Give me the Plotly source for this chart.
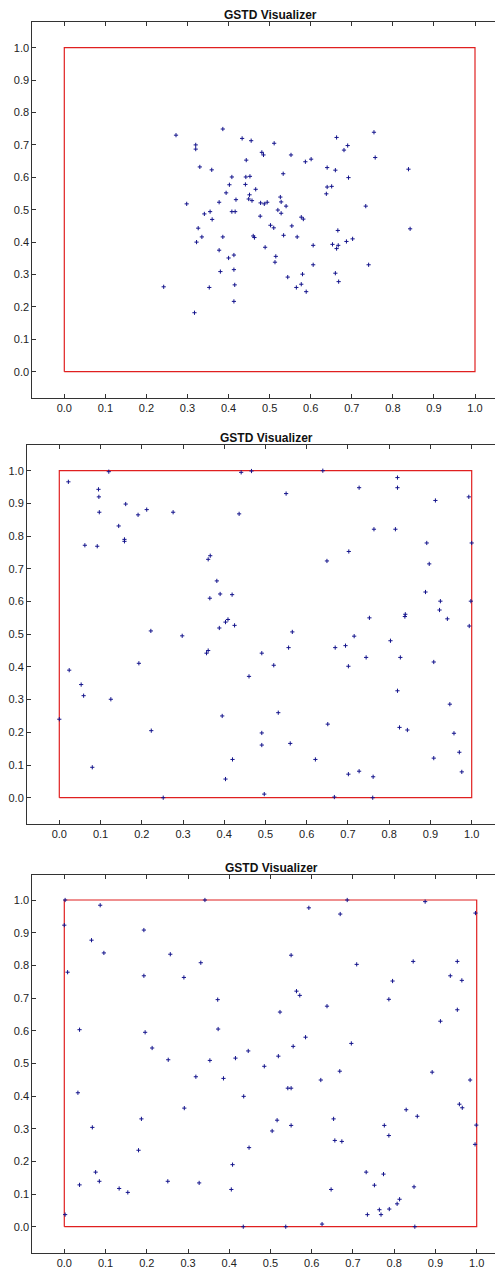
import plotly.graph_objects as go

# The page body has an 8px default margin, so the figure is drawn 8px in from
# the window's top-left corner; pixel positions below are window positions.
PAGE_OFFSET = 8
WIN_W, WIN_H = 503, 1273
W, H = WIN_W - PAGE_OFFSET, WIN_H - PAGE_OFFSET
TITLE = "GSTD Visualizer"

tick_values = [round(i * 0.1, 1) for i in range(11)]
tick_labels = [f"{v:.1f}" for v in tick_values]

boundary_x = [0, 1, 1, 0, 0]
boundary_y = [0, 0, 1, 1, 0]

# Panel 1: clustered distribution
p1_x = [0.272, 0.386, 0.320, 0.320, 0.433, 0.455, 0.511, 0.663, 0.754, 0.690,
        0.681, 0.481, 0.485, 0.552, 0.757, 0.443, 0.587, 0.601, 0.330, 0.359,
        0.640, 0.660, 0.838, 0.533, 0.408, 0.442, 0.452, 0.692, 0.402, 0.441,
        0.466, 0.640, 0.651, 0.638, 0.394, 0.451, 0.526, 0.418, 0.449, 0.457,
        0.377, 0.478, 0.487, 0.494, 0.528, 0.540, 0.298, 0.734, 0.341, 0.355,
        0.408, 0.416, 0.520, 0.528, 0.477, 0.577, 0.582, 0.360,
        0.326, 0.335, 0.322, 0.386, 0.460, 0.463, 0.502, 0.510, 0.554, 0.534,
        0.567, 0.666, 0.842, 0.606, 0.653, 0.667, 0.663, 0.687, 0.702, 0.489,
        0.377, 0.413, 0.400, 0.515, 0.513, 0.741, 0.606, 0.413, 0.380, 0.544,
        0.580, 0.660, 0.668, 0.577, 0.565, 0.589, 0.242, 0.353, 0.415, 0.413,
        0.317]
p1_y = [0.730, 0.749, 0.700, 0.687, 0.720, 0.713, 0.705, 0.723, 0.739, 0.698,
        0.684, 0.677, 0.669, 0.669, 0.661, 0.653, 0.648, 0.656, 0.632, 0.623,
        0.630, 0.622, 0.625, 0.611, 0.601, 0.601, 0.603, 0.599, 0.577, 0.578,
        0.563, 0.570, 0.572, 0.549, 0.552, 0.546, 0.539, 0.531, 0.533, 0.528,
        0.523, 0.521, 0.518, 0.523, 0.524, 0.511, 0.518, 0.511, 0.487, 0.494,
        0.494, 0.494, 0.499, 0.489, 0.480, 0.477, 0.471, 0.470,
        0.443, 0.416, 0.400, 0.416, 0.419, 0.414, 0.452, 0.444, 0.450, 0.421,
        0.416, 0.436, 0.441, 0.390, 0.393, 0.390, 0.380, 0.402, 0.410, 0.384,
        0.375, 0.360, 0.351, 0.356, 0.338, 0.330, 0.330, 0.315, 0.309, 0.292,
        0.301, 0.304, 0.278, 0.270, 0.260, 0.247, 0.262, 0.260, 0.268, 0.217,
        0.182]

# Panel 2: uniform distribution
p2_x = [0.120, 0.441, 0.466, 0.022, 0.095, 0.096, 0.161, 0.212, 0.191, 0.097,
        0.276, 0.436, 0.144, 0.158, 0.158, 0.062, 0.092, 0.366, 0.361, 0.382,
        0.390, 0.419, 0.365, 0.409,
        0.639, 0.820, 0.820, 0.727, 0.550, 0.993, 0.912, 0.763, 0.815, 0.891,
        1.000, 0.702, 0.649, 0.897, 0.888, 0.924, 0.998, 0.922, 0.752, 0.839,
        0.838, 0.941,
        0.403, 0.388, 0.425, 0.222, 0.298, 0.361, 0.357, 0.491, 0.193, 0.024,
        0.460, 0.053, 0.059, 0.125, 0.395, 0.000, 0.223, 0.491, 0.491, 0.420,
        0.080, 0.403, 0.497, 0.252,
        0.994, 0.565, 0.715, 0.803, 0.556, 0.669, 0.694, 0.744, 0.827, 0.908,
        0.520, 0.701, 0.820, 0.947, 0.531, 0.651, 0.825, 0.844, 0.957, 0.970,
        0.560, 0.621, 0.908, 0.976, 0.701, 0.727, 0.761, 0.667, 0.760]
p2_y = [0.997, 0.995, 0.999, 0.966, 0.943, 0.920, 0.898, 0.881, 0.865, 0.873,
        0.873, 0.868, 0.831, 0.790, 0.784, 0.772, 0.769, 0.740, 0.729, 0.663,
        0.623, 0.621, 0.610, 0.545,
        1.000, 0.979, 0.948, 0.948, 0.930, 0.920, 0.909, 0.821, 0.821, 0.779,
        0.779, 0.753, 0.724, 0.715, 0.629, 0.601, 0.601, 0.574, 0.550, 0.561,
        0.554, 0.547,
        0.537, 0.519, 0.527, 0.510, 0.495, 0.450, 0.442, 0.442, 0.411, 0.390,
        0.371, 0.346, 0.312, 0.301, 0.250, 0.240, 0.205, 0.198, 0.161, 0.117,
        0.093, 0.057, 0.011, 0.000,
        0.525, 0.507, 0.494, 0.480, 0.459, 0.459, 0.465, 0.429, 0.429, 0.415,
        0.405, 0.402, 0.327, 0.286, 0.260, 0.225, 0.215, 0.207, 0.197, 0.139,
        0.166, 0.117, 0.121, 0.079, 0.072, 0.081, 0.064, 0.002, 0.000]

# Panel 3: uniform distribution
p3_x = [0.002, 0.341, 0.087, 0.000, 0.193, 0.066, 0.096, 0.257, 0.331, 0.008,
        0.193, 0.290, 0.372, 0.037, 0.196, 0.373, 0.213,
        0.686, 0.875, 0.593, 0.669, 0.997, 0.550, 0.846, 0.953, 0.709, 0.936,
        0.964, 0.796, 0.563, 0.571, 0.787, 0.637, 0.523, 0.953, 0.912, 0.585,
        0.696, 0.555,
        0.252, 0.353, 0.415, 0.446, 0.485, 0.319, 0.386, 0.033, 0.435, 0.291,
        0.187, 0.068, 0.180, 0.448, 0.408, 0.076, 0.085, 0.037, 0.133, 0.154,
        0.251, 0.327, 0.405, 0.002, 0.434,
        0.519, 0.668, 0.622, 0.892, 0.984, 0.542, 0.550, 0.958, 0.965, 0.829,
        0.856, 0.516, 0.653, 0.504, 0.550, 0.776, 0.787, 0.656, 0.673, 0.999,
        0.996, 0.732, 0.774, 0.752, 0.647, 0.848, 0.813, 0.807, 0.788, 0.764,
        0.768, 0.735, 0.625, 0.537, 0.850]
p3_y = [1.000, 1.000, 0.984, 0.923, 0.908, 0.877, 0.838, 0.834, 0.808, 0.779,
        0.768, 0.763, 0.695, 0.603, 0.595, 0.605, 0.547,
        1.000, 0.995, 0.976, 0.957, 0.960, 0.831, 0.812, 0.812, 0.803, 0.768,
        0.754, 0.752, 0.721, 0.708, 0.696, 0.675, 0.657, 0.664, 0.629, 0.580,
        0.561, 0.552,
        0.511, 0.509, 0.516, 0.538, 0.491, 0.459, 0.454, 0.410, 0.399, 0.363,
        0.330, 0.304, 0.234, 0.242, 0.190, 0.167, 0.139, 0.128, 0.117, 0.105,
        0.139, 0.134, 0.114, 0.037, 0.000,
        0.522, 0.476, 0.449, 0.473, 0.449, 0.424, 0.424, 0.375, 0.364, 0.358,
        0.338, 0.326, 0.330, 0.293, 0.310, 0.310, 0.279, 0.264, 0.261, 0.311,
        0.252, 0.167, 0.161, 0.127, 0.114, 0.122, 0.084, 0.070, 0.054, 0.052,
        0.037, 0.037, 0.008, 0.000, 0.000]

panels = [(p1_x, p1_y), (p2_x, p2_y), (p3_x, p3_y)]

# Window-pixel layout of each panel: left axis line, x=0 pixel, x=1 pixel,
# top frame line, y=1 pixel, y=0 pixel, bottom axis line, title center
layout_px = [
    dict(left=32.3, x0=64.3, x1=475.0, top=22.3, y1=47.7, y0=371.7, bottom=397.7, tx=270, ty=15.5),
    dict(left=27.0, x0=59.3, x1=471.7, top=445.0, y1=470.7, y0=797.7, bottom=823.7, tx=266, ty=438),
    dict(left=32.3, x0=64.3, x1=476.7, top=875.0, y1=900.0, y0=1226.7, bottom=1252.7, tx=271, ty=868),
]

fig = go.Figure()
axis_font = dict(family="Liberation Sans, Arial, sans-serif", size=11, color="#222")

for i, ((px_, py_), Lw) in enumerate(zip(panels, layout_px)):
    L = {k: v - PAGE_OFFSET for k, v in Lw.items()}
    n = "" if i == 0 else str(i + 1)
    xref, yref = "x" + n, "y" + n
    fig.add_trace(go.Scatter(x=boundary_x, y=boundary_y, mode="lines",
                             line=dict(color="#e02020", width=1.2),
                             xaxis=xref, yaxis=yref, hoverinfo="skip", showlegend=False))
    fig.add_trace(go.Scatter(x=px_, y=py_, mode="markers",
                             marker=dict(symbol="cross-thin", size=3,
                                         line=dict(width=1, color="#14148c")),
                             xaxis=xref, yaxis=yref, showlegend=False))
    sx = L["x1"] - L["x0"]
    sy = L["y0"] - L["y1"]
    xr = [-(L["x0"] - L["left"]) / sx, (W - L["x0"]) / sx]
    yr = [-(L["bottom"] - L["y0"]) / sy, 1 + (L["y1"] - L["top"]) / sy]
    common = dict(showgrid=False, zeroline=False, showline=True, linecolor="#333",
                  linewidth=1, ticks="inside", ticklen=4, tickcolor="#333",
                  tickvals=tick_values, ticktext=tick_labels, tickfont=axis_font,
                  fixedrange=True)
    fig.layout["xaxis" + n] = dict(common, domain=[L["left"] / W, 1.0], range=xr,
                                   anchor=yref, mirror="ticks")
    fig.layout["yaxis" + n] = dict(common, domain=[1 - L["bottom"] / H, 1 - L["top"] / H],
                                   range=yr, anchor=xref, mirror=False)
    fig.add_annotation(text="<b>" + TITLE + "</b>", x=L["tx"] / W, y=1 - L["ty"] / H,
                       xref="paper", yref="paper", showarrow=False, borderpad=0,
                       xanchor="center", yanchor="middle",
                       font=dict(family="Liberation Sans, Arial, sans-serif", size=12, color="#111"))

fig.update_layout(width=W, height=H, margin=dict(l=0, r=0, t=0, b=0),
                  plot_bgcolor="white", paper_bgcolor="white", showlegend=False)

fig.write_html("out.html")
